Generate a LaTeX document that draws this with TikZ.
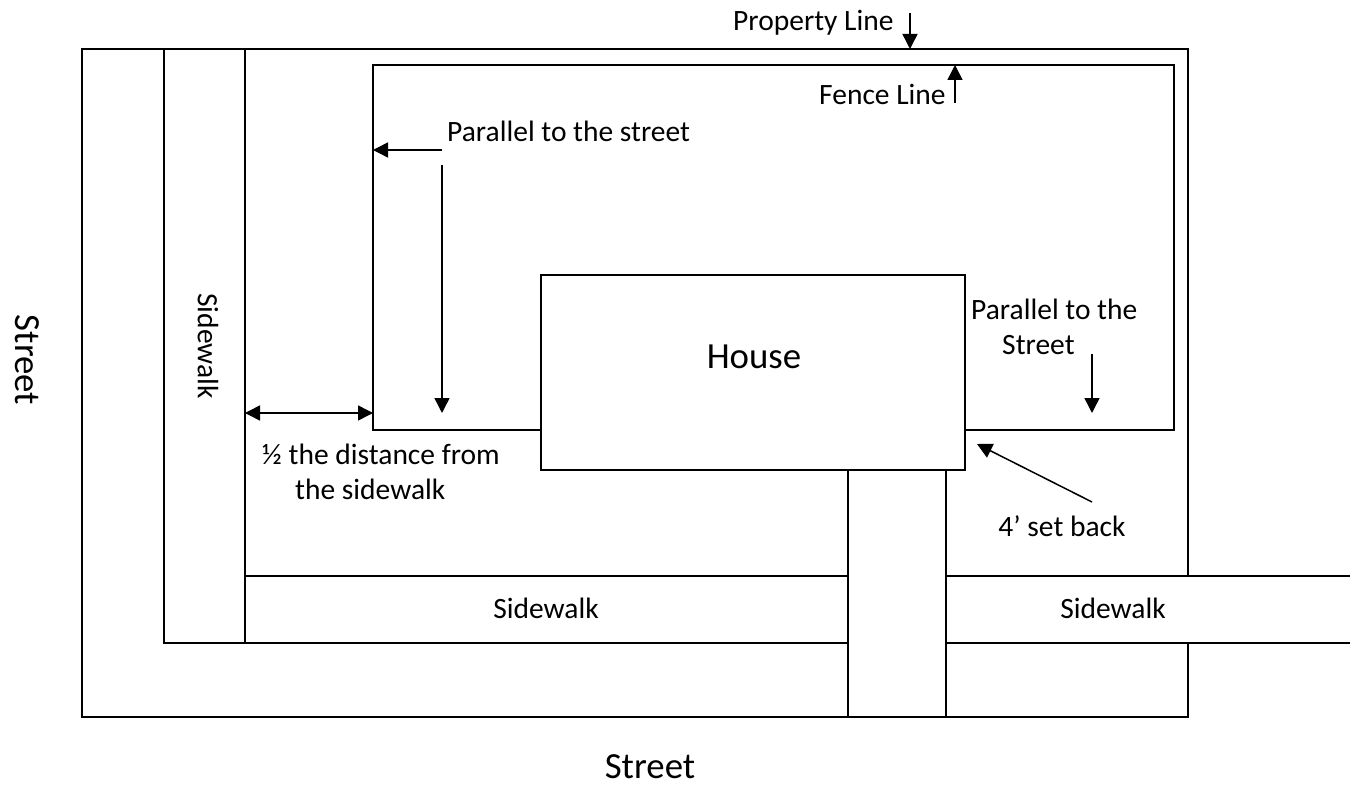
\documentclass[tikz,border=0pt]{standalone}
\usepackage{fontspec}
\setmainfont{Carlito}
\usetikzlibrary{arrows.meta}
\tikzset{
 ln/.style={draw=black,line width=1.3pt},
 hv/.style={draw=black,line width=1.7pt},
 arr/.style={draw=black,line width=1.5pt,-{Triangle[length=15pt,width=15pt]}},
 darr/.style={draw=black,line width=1.5pt,{Triangle[length=15pt,width=15pt]}-{Triangle[length=15pt,width=15pt]}},
 lab/.style={inner sep=0pt,font=\fontsize{29.5pt}{35pt}\selectfont,align=left},
 big/.style={inner sep=0pt,font=\fontsize{36.8pt}{42pt}\selectfont},
}
\begin{document}
\begin{tikzpicture}[x=1pt,y=-1pt]
\useasboundingbox (0,0) rectangle (1350,786);
\fill[white] (0,0) rectangle (1350,786);
% property
\draw[ln] (82,49) rectangle (1188,717);
% outer sidewalk
\fill[white,ln] (164,49) rectangle (245,643);
\fill[white,ln] (245,576) rectangle (848,643);
\fill[white] (946,576) rectangle (1350,643);
\draw[ln] (946,576) -- (1350,576) (946,643) -- (1350,643);
% walk
\fill[white,ln] (848,470) rectangle (946,717);
% fence
\draw[hv] (541,430) -- (373,430) -- (373,65) -- (1174,65) -- (1174,430) -- (965,430);
% house
\node[hv,fill=white,minimum width=424pt,minimum height=195pt,inner sep=0pt,outer sep=0pt,anchor=north west] (house) at (541,275) {};
\node[big] (houselabel) at (754,357) {House};
% labels
\node[lab,anchor=west] (pl) at (733,23) {Property Line};
\coordinate (pa1) at (910,13); \coordinate (pa2) at (910,49);
\draw[arr] (pa1) -- (pa2);
\node[lab,anchor=west] (fl) at (819,94) {Fence Line};
\coordinate (fa1) at (955,103); \coordinate (fa2) at (955,65);
\draw[arr] (fa1) -- (fa2);
\node[lab,anchor=west] (ps) at (447,131) {Parallel to the street};
\coordinate (a1) at (442,150); \coordinate (a2) at (373,150);
\draw[arr] (a1) -- (a2);
\coordinate (b1) at (442,165); \coordinate (b2) at (442,413);
\draw[arr] (b1) -- (b2);
\node[lab,anchor=west] (ps2) at (971,327) {Parallel to the\\\hspace*{31pt}Street};
\coordinate (c1) at (1092,354); \coordinate (c2) at (1092,413);
\draw[arr] (c1) -- (c2);
\coordinate (d1) at (245,413); \coordinate (d2) at (373,413);
\draw[darr] (d1) -- (d2);
\node[lab,anchor=west] (half) at (262,472) {½ the distance from\\\hspace*{33pt}the sidewalk};
\coordinate (e1) at (1092,502); \coordinate (e2) at (977,444);
\draw[arr] (e1) -- (e2);
\node[lab] (sb) at (1062,526) {4’ set back};
\node[lab] (sw1) at (546,608) {Sidewalk};
\node[lab] (sw2) at (1113,608) {Sidewalk};
\node[lab,rotate=-90] (sw3) at (208,346) {Sidewalk};
\node[big] (st1) at (650,767) {Street};
\node[big,rotate=-90] (st2) at (27,360) {Street};
\end{tikzpicture}
\end{document}
